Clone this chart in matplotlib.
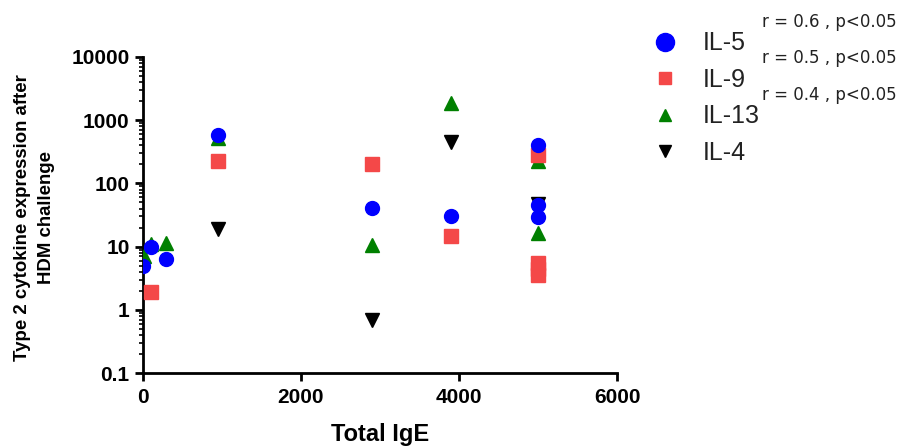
import numpy as np
import matplotlib.pyplot as plt
from matplotlib.lines import Line2D
from matplotlib.ticker import LogLocator, FixedLocator, NullFormatter

plt.rcParams['font.family'] = ['Liberation Sans', 'DejaVu Sans']

# Total IgE vs cytokine expression
il5_x = [0, 100, 300, 950, 2900, 3900, 5000, 5000, 5000]
il5_y = [5, 10, 6.3, 590, 41, 30, 400, 46, 29]

il9_x = [100, 950, 2900, 3900, 5000, 5000, 5000, 5000]
il9_y = [1.9, 225, 200, 14.5, 280, 5.6, 4.5, 3.6]

il13_x = [20, 100, 300, 950, 2900, 3900, 5000, 5000]
il13_y = [7.2, 11, 11.5, 520, 10.5, 1850, 230, 16.5]

il4_x = [950, 2900, 3900, 5000]
il4_y = [19, 0.7, 450, 47]

series_names = ['IL-5', 'IL-9', 'IL-13', 'IL-4']
corr_labels = ['r = 0.6 , p<0.05', 'r = 0.5 , p<0.05', 'r = 0.4 , p<0.05']

fig = plt.figure(figsize=(9.09, 4.48), dpi=100)
ax = fig.add_axes([0.157, 0.167, 0.522, 0.706])

ax.plot(il4_x, il4_y, 'v', color='black', markersize=10, zorder=2)
ax.plot(il13_x, il13_y, '^', color='#008000', markersize=10, zorder=3)
ax.plot(il9_x, il9_y, 's', color='#f44848', markersize=10, zorder=4)
ax.plot(il5_x, il5_y, 'o', color='#0000ff', markersize=10, zorder=5)

ax.set_yscale('log')
ax.set_ylim(0.1, 10000)
ax.set_xlim(0, 6000)
ax.set_xticks([0, 2000, 4000, 6000])
ax.set_yticks([0.1, 1, 10, 100, 1000, 10000])
ax.set_yticklabels(['0.1', '1', '10', '100', '1000', '10000'])
ax.yaxis.set_minor_locator(LogLocator(base=10, subs=np.arange(2, 10)))
ax.yaxis.set_minor_formatter(NullFormatter())
ax.xaxis.set_minor_locator(FixedLocator([]))

for side in ['top', 'right']:
    ax.spines[side].set_visible(False)
for side in ['left', 'bottom']:
    ax.spines[side].set_linewidth(2)
ax.tick_params(axis='both', which='major', width=2, length=6, labelsize=15)
ax.tick_params(axis='x', which='major', pad=5)
ax.tick_params(axis='y', which='minor', width=1.2, length=3)
for lbl in ax.get_xticklabels() + ax.get_yticklabels():
    lbl.set_fontweight('bold')

ax.set_xlabel('Total IgE', fontsize=17, fontweight='bold', labelpad=11)
fig.text(0.038, 0.515, 'Type 2 cytokine expression after\nHDM challenge',
         rotation=90, fontsize=13.4, fontweight='bold', ha='center', va='center',
         multialignment='center', linespacing=1.5)

# legend with per-marker sizes like the reference
handles = [
    Line2D([], [], ls='none', marker='o', color='#0000ff', markersize=13),
    Line2D([], [], ls='none', marker='s', color='#f44848', markersize=8),
    Line2D([], [], ls='none', marker='^', color='#008000', markersize=9),
    Line2D([], [], ls='none', marker='v', color='black', markersize=9),
]
leg = fig.legend(handles, series_names, loc='upper left',
                 bbox_to_anchor=(0.715, 0.93), frameon=False, fontsize=18,
                 borderpad=0, borderaxespad=0, handlelength=1.2,
                 handletextpad=0.9, labelspacing=0.5)
for t in leg.get_texts():
    t.set_color('#222222')

for txt, yf in zip(corr_labels, [0.951, 0.87, 0.789]):
    fig.text(0.838, yf, txt, fontsize=12, va='center', color='#222222',
             family='DejaVu Sans')

fig.savefig('out.png', dpi=100)
